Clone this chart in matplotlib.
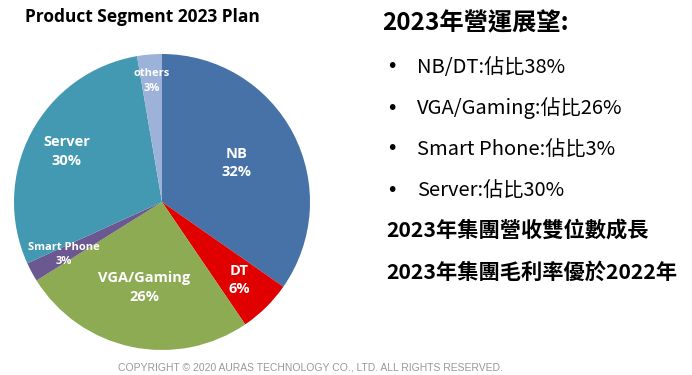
import numpy as np
import matplotlib
matplotlib.use("Agg")
import matplotlib.pyplot as plt

plt.rcParams['font.family'] = ['Open Sans', 'Noto Sans CJK TC', 'DejaVu Sans']

segments = ["NB", "DT", "VGA/Gaming", "Smart Phone", "Server", "others"]
# wedge sizes as drawn in the picture (measured from the slice angles)
wedge_share = [34.7, 5.8, 25.6, 2.1, 29.1, 2.7]
# percentages printed on the slices
label_pct = [32, 6, 26, 3, 30, 3]
colors = ["#4672a8", "#e00000", "#8dab52", "#6c5891", "#4399b1", "#9cb2d8"]
label_dist = [0.57, 0.74, 0.59, 0.75, 0.73, 0.82]
label_size = [10.5, 10.5, 10.5, 8, 10.5, 8]

outlook_title = "2023年營運展望:"
bullets = ["NB/DT:佔比38%", "VGA/Gaming:佔比26%", "Smart Phone:佔比3%", "Server:佔比30%"]
highlights = ["2023年集團營收雙位數成長", "2023年集團毛利率優於2022年"]

fig = plt.figure(figsize=(6.92, 3.75), dpi=100)
fig.patch.set_facecolor("white")

ax = fig.add_axes([14 / 692, 25 / 375, 296 / 692, 296 / 375])
wedges, _ = ax.pie(wedge_share, colors=colors, startangle=90, counterclock=False,
                   radius=1.0)
ax.set_xlim(-1, 1)
ax.set_ylim(-1, 1)
ax.set_aspect("equal")

for w, name, val, d, fs in zip(wedges, segments, label_pct, label_dist, label_size):
    ang = np.deg2rad((w.theta1 + w.theta2) / 2)
    ax.text(d * np.cos(ang), d * np.sin(ang), f"{name}\n{val}%",
            ha="center", va="center", color="white", fontweight="bold",
            fontsize=fs, linespacing=1.4)

fig.text(25 / 692, 1 - 17 / 375, "Product Segment 2023 Plan",
         fontsize=12.5, fontweight="bold", va="center", ha="left")

cjk = ['Noto Sans CJK TC', 'DejaVu Sans']
fig.text(382 / 692, 1 - 23 / 375, outlook_title, fontsize=17.5,
         fontweight="bold", va="center", ha="left", family=cjk)

for i, b in enumerate(bullets):
    y = 1 - (67 + i * 41) / 375
    fig.text(386 / 692, y, "•", fontsize=14, va="center", ha="left",
             family=['DejaVu Sans'])
    fig.text(417 / 692, y, b, fontsize=14.5, va="center", ha="left", family=cjk)

for i, h in enumerate(highlights):
    y = 1 - (230 + i * 42) / 375
    fig.text(386 / 692, y, h, fontsize=15.3, fontweight="bold",
             va="center", ha="left", family=cjk)

fig.text(310 / 692, 1 - 367 / 375,
         "COPYRIGHT © 2020 AURAS TECHNOLOGY CO., LTD. ALL RIGHTS RESERVED.",
         fontsize=7.5, color="#999999", ha="center", va="center",
         family=['Liberation Sans', 'DejaVu Sans'])

fig.savefig("out.png", dpi=100)
